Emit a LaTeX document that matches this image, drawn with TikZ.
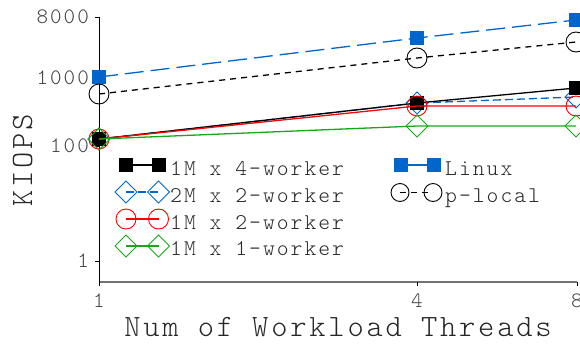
\documentclass[tikz,border=0pt]{standalone}
\usepackage{fontspec}
\newfontfamily\cour{lmmonolt10-regular}[Extension=.otf,LetterSpace=9]
\usetikzlibrary{shapes.geometric}
\definecolor{lnblue}{RGB}{0,102,204}
\definecolor{lngreen}{RGB}{20,170,20}
\definecolor{lnred}{RGB}{255,0,0}
\begin{document}
\begin{tikzpicture}[x=1pt,y=-1pt,
  mksq/.style={rectangle,fill=#1,draw=none,minimum size=14pt,inner sep=0pt,outer sep=0pt},
  mkci/.style={circle,draw=#1,line width=0.9pt,minimum size=20pt,inner sep=0pt,outer sep=0pt},
  mkdi/.style={diamond,draw=#1,line width=0.9pt,minimum width=22pt,minimum height=22pt,inner sep=0pt,outer sep=0pt},
  series/.style={line width=1.3pt,draw=#1},
  longdash/.style={dash pattern=on 19pt off 7pt},
  shortdash/.style={dash pattern=on 6pt off 5pt},
  middash/.style={dash pattern=on 8pt off 4pt},
  ticklbl/.style={font={\cour\fontsize{22}{24}\selectfont},text=black!75,inner sep=0pt},
  legtext/.style={font={\cour\fontsize{22.5}{24}\selectfont},text=black!85,inner sep=0pt,anchor=base west},
  axlbl/.style={font={\cour\fontsize{31}{34}\selectfont},text=black!85,inner sep=0pt,anchor=base},
  axisline/.style={line width=0.9pt,draw=black},
  xaxisline/.style={line width=1.4pt,draw=black!55}
]
\useasboundingbox (0,0) rectangle (580,343);

% ---- axes ----
\coordinate (yTop) at (99,17);
\coordinate (yBot) at (99,282);
\coordinate (xEnd) at (577,282);
\draw[xaxisline] (yBot) -- (xEnd);
\draw[axisline] (yTop) -- (yBot);

% y ticks and labels
\foreach \yy/\lab/\nm in {17/8000/ya,78/1000/yb,146/100/yc,261/1/yd}{
  \coordinate (\nm) at (99,\yy);
  \draw[axisline] (\nm) -- ++(-4,0);
  \node[ticklbl,anchor=east] (\nm l) at (89,\yy) {\lab};
}
% x ticks and labels
\foreach \xx/\lab/\nm in {99/1/xa,417/4/xb,577/8/xc}{
  \coordinate (\nm) at (\xx,282);
  \draw[axisline] (\nm) -- ++(0,4);
  \node[ticklbl] (\nm l) at (\xx,301) {\lab};
}

\node[axlbl] (xlabel) at (338,336) {Num of Workload Threads};
\node[axlbl,rotate=90] (ylabel) at (32,160) {KIOPS};

% ---- data points ----
\coordinate (li1) at (99,77);  \coordinate (li4) at (417,38);  \coordinate (li8) at (576,20);
\coordinate (pl1) at (99,94);  \coordinate (pl4) at (417,58);  \coordinate (pl8) at (576,42);
\coordinate (fa1) at (99,139); \coordinate (fa4) at (417,103); \coordinate (fa8) at (576,88);
\coordinate (tb1) at (99,139); \coordinate (tb4) at (417,103); \coordinate (tb8) at (576,97);
\coordinate (tr1) at (99,139); \coordinate (tr4) at (417,106); \coordinate (tr8) at (576,106);
\coordinate (og1) at (99,139); \coordinate (og4) at (417,126); \coordinate (og8) at (576,126);

% 2M x 2-worker
\draw[series=lnblue,middash] (tb1) -- (tb4) -- (tb8);
\foreach \p in {1,4,8}{\node[mkdi=lnblue] (mtb\p) at (tb\p) {};}
% 1M x 4-worker
\draw[series=black] (fa1) -- (fa4) -- (fa8);
\foreach \p in {1,4,8}{\node[mksq=black] (mfa\p) at (fa\p) {};}
% 1M x 2-worker
\draw[series=lnred] (tr1) -- (tr4) -- (tr8);
\foreach \p in {1,4,8}{\node[mkci=lnred] (mtr\p) at (tr\p) {};}
% 1M x 1-worker
\draw[series=lngreen] (og1) -- (og4) -- (og8);
\foreach \p in {1,4,8}{\node[mkdi=lngreen] (mog\p) at (og\p) {};}
% Linux
\draw[series=lnblue,longdash] (li1) -- (li4) -- (li8);
\foreach \p in {1,4,8}{\node[mksq=lnblue] (mli\p) at (li\p) {};}
% p-local
\draw[series=black,shortdash] (pl1) -- (pl4) -- (pl8);
\foreach \p in {1,4,8}{\node[mkci=black] (mpl\p) at (pl\p) {};}

% ---- legend (left column) ----
\coordinate (lga) at (126,165);   \coordinate (lgb) at (158.5,165);
\draw[series=black] (lga) -- (lgb);
\node[mksq=black] (mlga) at (lga) {}; \node[mksq=black] (mlgb) at (lgb) {};
\node[legtext] (tlg1) at (170,175.5) {1M x 4-worker};

\coordinate (lgc) at (126,192);   \coordinate (lgd) at (158.5,192);
\draw[series=lnblue,middash] (lgc) -- (lgd);
\node[mkdi=lnblue] (mlgc) at (lgc) {}; \node[mkdi=lnblue] (mlgd) at (lgd) {};
\node[legtext] (tlg2) at (170,202.3) {2M x 2-worker};

\coordinate (lge) at (126,219);   \coordinate (lgf) at (158.5,219);
\draw[series=lnred] (lge) -- (lgf);
\node[mkci=lnred] (mlge) at (lge) {}; \node[mkci=lnred] (mlgf) at (lgf) {};
\node[legtext] (tlg3) at (170,229) {1M x 2-worker};

\coordinate (lgg) at (126,246);   \coordinate (lgh) at (158.5,246);
\draw[series=lngreen] (lgg) -- (lgh);
\node[mkdi=lngreen] (mlgg) at (lgg) {}; \node[mkdi=lngreen] (mlgh) at (lgh) {};
\node[legtext] (tlg4) at (170,255.7) {1M x 1-worker};

% ---- legend (right column) ----
\coordinate (lgi) at (401,165);   \coordinate (lgj) at (434,165);
\draw[series=lnblue] (lgi) -- (lgj);
\node[mksq=lnblue] (mlgi) at (lgi) {}; \node[mksq=lnblue] (mlgj) at (lgj) {};
\node[legtext] (tlg5) at (445,175) {Linux};

\coordinate (lgk) at (400,192.5); \coordinate (lgl) at (433,192.5);
\draw[series=black,shortdash] (lgk) -- (lgl);
\node[mkci=black,minimum size=18pt] (mlgk) at (lgk) {}; \node[mkci=black,minimum size=18pt] (mlgl) at (lgl) {};
\node[legtext] (tlg6) at (445,202.3) {p-local};
\end{tikzpicture}
\end{document}
